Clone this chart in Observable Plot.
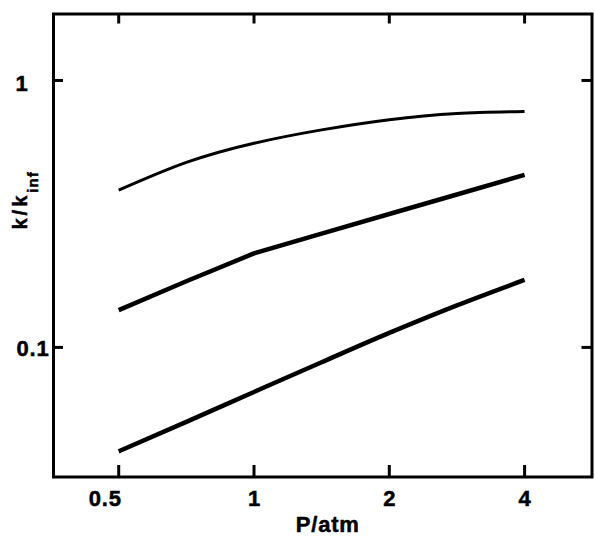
<!DOCTYPE html>
<html>
<head>
<meta charset="utf-8">
<script src="https://cdn.jsdelivr.net/npm/d3@7"></script>
<script src="https://cdn.jsdelivr.net/npm/@observablehq/plot@0.6"></script>
<style>
  html, body { margin: 0; padding: 0; background: white; }
  svg text { stroke: black; stroke-width: 0.5px; }
</style>
</head>
<body>
<div id="chart"></div>
<script>
// Pressure (atm) sample points
const pressure = [0.5, 0.707, 1, 1.414, 2, 2.828, 4];
// k/k_inf for the three fall-off curves (top to bottom)
const curveTop = [0.388, 0.493, 0.582, 0.653, 0.713, 0.752, 0.765];
const curveMid = [0.138, 0.177, 0.225, 0.267, 0.316, 0.374, 0.443];
const curveLow = [0.0408, 0.0526, 0.0681, 0.0880, 0.1133, 0.1437, 0.179];
// Tick values
const xTicks = [0.5, 1, 2, 4];
const yTicks = [0.1, 1];
const xLabel = "P/atm";
const yLabelMain = "k/k";
const yLabelSub = "inf";

const toRows = (vals) => pressure.map((p, i) => ({p, v: vals[i]}));

const W = 595, H = 538;
const mL = 53, mR = 3.5, mT = 13.5, mB = 61.5;
const innerW = W - mL - mR, innerH = H - mT - mB;
const tickLen = 10;
const fs = 22;

const chart = Plot.plot({
  width: W,
  height: H,
  marginLeft: mL,
  marginRight: mR,
  marginTop: mT,
  marginBottom: mB,
  style: {
    fontFamily: "'Liberation Sans', Arial, Helvetica, sans-serif",
    fontSize: fs + "px",
    fontWeight: "bold",
    letterSpacing: "0.8px",
    background: "white",
    color: "black"
  },
  x: {type: "log", domain: [0.358, 5.65], label: null},
  y: {type: "log", domain: [0.0327, 1.774], label: null},
  marks: [
    Plot.frame({stroke: "black", strokeWidth: 3}),
    // inward ticks: bottom, top, left, right
    Plot.tickX(xTicks, {x: d => d, insetTop: innerH - tickLen - 1.5, strokeWidth: 3}),
    Plot.tickX(xTicks, {x: d => d, insetBottom: innerH - tickLen, strokeWidth: 3}),
    Plot.tickY(yTicks, {y: d => d, insetRight: innerW - tickLen, strokeWidth: 3}),
    Plot.tickY(yTicks, {y: d => d, insetLeft: innerW - tickLen, strokeWidth: 3}),
    // tick labels
    Plot.axisX([0.5], {tickSize: 0, tickPadding: 13.5, dx: -13.5, fontSize: fs, tickFormat: d => String(d)}),
    Plot.axisX([1, 2, 4], {tickSize: 0, tickPadding: 13.5, dx: 0.5, fontSize: fs, tickFormat: d => String(d)}),
    Plot.axisY([1], {tickSize: 0, tickPadding: 25, dy: 3, fontSize: fs, tickFormat: d => String(d)}),
    Plot.axisY([0.1], {tickSize: 0, tickPadding: 4, dy: 2, fontSize: fs, tickFormat: d => String(d)}),
    // curves
    Plot.line(toRows(curveTop), {x: "p", y: "v", stroke: "black", strokeWidth: 3, curve: "natural", strokeLinecap: "butt"}),
    Plot.line(toRows(curveMid), {x: "p", y: "v", stroke: "black", strokeWidth: 4.5, curve: "linear", strokeLinecap: "butt"}),
    Plot.line(toRows(curveLow), {x: "p", y: "v", stroke: "black", strokeWidth: 4.5, curve: "monotone-x", strokeLinecap: "butt"}),
    // axis titles
    Plot.text([xLabel], {text: d => d, frameAnchor: "bottom", lineAnchor: "top", dy: 39.5, dx: 5, fontSize: fs}),
    Plot.text([yLabelMain], {text: d => d, frameAnchor: "left", lineAnchor: "bottom", rotate: -90, dx: -27, dy: -16, fontSize: 20})
  ]
});

document.getElementById("chart").appendChild(chart);

// add subscript to the y-axis label
d3.select(chart).selectAll("text").each(function() {
  if (this.textContent === yLabelMain) {
    const t = d3.select(this);
    t.attr("letter-spacing", "3px");
    t.append("tspan").attr("dy", "0.75em").attr("font-size", "15px").attr("letter-spacing", "1px").text(yLabelSub);
  }
});
</script>
</body>
</html>
